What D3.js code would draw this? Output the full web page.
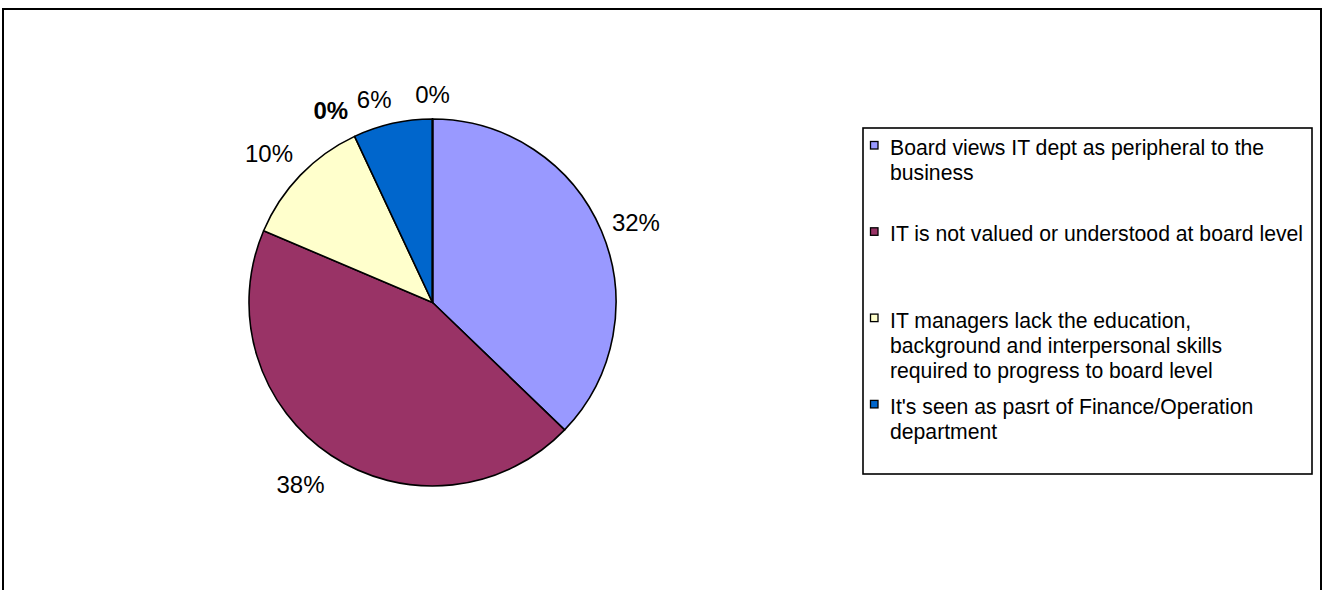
<!DOCTYPE html>
<html>
<head>
<meta charset="utf-8">
<script src="https://cdn.jsdelivr.net/npm/d3@7"></script>
<style>
  html, body { margin: 0; padding: 0; background: #fff; }
  svg { display: block; font-family: "Liberation Sans", Arial, sans-serif; }
</style>
</head>
<body>
<svg id="chart" width="1323" height="590"></svg>
<script>
// ---- data ----
const categories = [
  "Board views IT dept as peripheral to the\nbusiness",
  "IT is not valued or understood at board level",
  "IT managers lack the education,\nbackground and interpersonal skills\nrequired to progress to board level",
  "It's seen as pasrt of Finance/Operation\ndepartment",
  "",
  ""
];
const values = [32, 38, 10, 6, 0, 0];
const labels = ["32%", "38%", "10%", "6%", "0%", "0%"];
const colors = ["#9999FF", "#993366", "#FFFFCC", "#0066CC", "#9999FF", "#993366"];
const legendCount = 4;

// ---- layout ----
const svg = d3.select("#chart");

// outer frame (bottom edge is outside the picture)
svg.append("rect")
  .attr("x", 3).attr("y", 9)
  .attr("width", 1318).attr("height", 600)
  .attr("fill", "#fff").attr("stroke", "#000").attr("stroke-width", 2);

const cx = 432.5, cy = 302.5, R = 183.5;
const g = svg.append("g").attr("transform", `translate(${cx},${cy})`);

const pie = d3.pie().sort(null).value(d => d.value).startAngle(0).endAngle(2 * Math.PI);
const data = values.map((v, i) => ({ value: v, i }));
const arcs = pie(data);
const arc = d3.arc().innerRadius(0).outerRadius(R);

g.selectAll("path.slice")
  .data(arcs)
  .enter().append("path")
  .attr("class", "slice")
  .attr("d", arc)
  .attr("fill", d => colors[d.data.i])
  .attr("stroke", "#000")
  .attr("stroke-width", 1.6)
  .attr("stroke-linejoin", "round");

// data labels, placed outside at mid-angle (nudged as in reference)
const labelR = [218.7, 224.8, 221.2, 211.7, 217.7, 208.5];
const angleNudge = [0.026, 0.043, -0.028, -0.06, -0.486, 0];
g.selectAll("text.lbl")
  .data(arcs)
  .enter().append("text")
  .attr("class", "lbl")
  .each(function (d) {
    const a = (d.startAngle + d.endAngle) / 2 + angleNudge[d.data.i];
    const r = labelR[d.data.i];
    d3.select(this)
      .attr("x", Math.sin(a) * r)
      .attr("y", -Math.cos(a) * r);
  })
  .attr("text-anchor", "middle")
  .attr("dominant-baseline", "central")
  .attr("font-size", 24)
  .attr("font-weight", d => d.data.i === 4 ? "bold" : "normal")
  .attr("fill", "#000")
  .text(d => labels[d.data.i]);

// ---- legend ----
const lx = 863, ly = 128, lw = 449, lh = 346;
svg.append("rect")
  .attr("x", lx).attr("y", ly).attr("width", lw).attr("height", lh)
  .attr("fill", "#fff").attr("stroke", "#000").attr("stroke-width", 1.6);

const slot = 86.3, lineH = 25, fs = 21.2;
const leg = svg.append("g");
categories.slice(0, legendCount).forEach((name, i) => {
  const top = ly + 10 + i * slot;
  leg.append("rect")
    .attr("x", lx + 7.5).attr("y", top + 3.5)
    .attr("width", 7.5).attr("height", 7.5)
    .attr("fill", colors[i]).attr("stroke", "#000").attr("stroke-width", 1.3);
  const t = leg.append("text")
    .attr("x", lx + 27).attr("y", top)
    .attr("font-size", fs).attr("fill", "#000");
  name.split("\n").forEach((line, k) => {
    t.append("tspan")
      .attr("x", lx + 27)
      .attr("y", top + 17 + k * lineH)
      .text(line);
  });
});
</script>
</body>
</html>
